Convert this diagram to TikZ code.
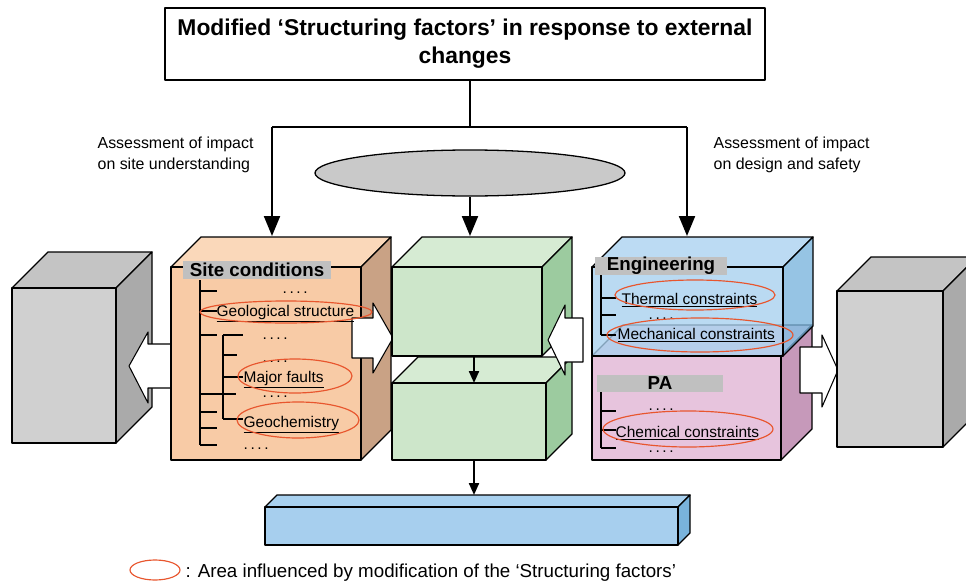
\documentclass[tikz,border=0pt]{standalone}
\usepackage{fontspec}
\setmainfont{Liberation Sans}
\usetikzlibrary{arrows.meta,shapes.geometric}

\definecolor{orangefront}{HTML}{F8CBA6}
\definecolor{orangetop}{HTML}{FAD8BA}
\definecolor{orangeside}{HTML}{C9A285}
\definecolor{gruenfront}{HTML}{CDE6CA}
\definecolor{gruentop}{HTML}{D6EBD3}
\definecolor{gruenside}{HTML}{9CCB9F}
\definecolor{blaufront}{HTML}{A7CFEE}
\definecolor{blautop}{HTML}{A9D1EF}
\definecolor{blauside}{HTML}{79B3DC}
\definecolor{rosafront}{HTML}{E7C4DD}
\definecolor{rosatop}{HTML}{E9CCE0}
\definecolor{rosaside}{HTML}{C699BA}
\definecolor{graufront}{HTML}{D0D0D0}
\definecolor{grautop}{HTML}{C4C4C4}
\definecolor{grauside}{HTML}{AAAAAA}
\definecolor{labelgrau}{HTML}{C0C0C0}
\definecolor{kringelrot}{HTML}{E8562E}

% Quader: [Optionen] x1 y1 (vorne oben links), x2 y2 (vorne unten rechts), Tiefe, Farbe
\newcommand{\quader}[7][]{%
  \filldraw[fill=#7top, #1] (#2,#3) -- ++(#6,-#6) -- ({#4+#6},{#3-#6}) -- (#4,#3) -- cycle;
  \filldraw[fill=#7side, #1] (#4,#3) -- ({#4+#6},{#3-#6}) -- ({#4+#6},{#5-#6}) -- (#4,#5) -- cycle;
  \filldraw[fill=#7front, #1] (#2,#3) rectangle (#4,#5);
}

\begin{document}
\begin{tikzpicture}[x=0.03cm, y=-0.03cm, line width=1.1pt, line join=round,
  pfeil/.style={line width=1.8pt, -{Triangle[length=0.6cm, width=0.48cm]}},
  kpfeil/.style={line width=1.8pt, -{Triangle[length=0.36cm, width=0.3cm]}},
  blockpfeil/.style={draw, fill=white, line width=0.9pt},
  kringel/.style={draw=kringelrot, line width=1pt},
  kopf/.style={fill=labelgrau, inner sep=0pt, font=\bfseries\fontsize{16}{18}\selectfont},
  eintrag/.style={anchor=base west, inner sep=0pt, font=\fontsize{13.2}{15}\selectfont},
  bewertung/.style={anchor=base west, inner sep=0pt, font=\fontsize{13.6}{15}\selectfont},
  baum/.style={line width=0.9pt}]
  \useasboundingbox (0,0) rectangle (966,584);

  % Linker Quader
  \quader{12}{288}{116}{443}{36}{grau}
  \draw[blockpfeil] (175,344) -- (148,344) -- (148,332) -- (129,366) -- (148,403) -- (148,388) -- (175,388) -- cycle;

  % Site conditions
  \quader{171}{267}{361}{460}{30}{orange}
  \draw[blockpfeil] (352,318) -- (373,318) -- (373,303) -- (393,338) -- (373,373) -- (373,358) -- (352,358) -- cycle;

  % Mittlere Quader
  \quader{392}{383}{546}{460}{26}{gruen}
  \quader{392}{267}{542}{356}{30}{gruen}
  \draw[blockpfeil] (583,318) -- (565,318) -- (565,305) -- (548,340) -- (565,375) -- (565,362) -- (583,362) -- cycle;

  % PA und Engineering
  \quader{592}{356}{781}{460}{31}{rosa}
  \quader[fill opacity=0.78]{592}{267}{783}{356}{30}{blau}
  \draw[blockpfeil] (800,347) -- (822,347) -- (822,335) -- (838,370) -- (822,407) -- (822,393) -- (800,393) -- cycle;

  % Rechter Quader
  \quader{837}{291}{943}{447}{34}{grau}

  % Unterer Balken
  \quader{265}{507}{678}{545}{12}{blau}

  % Kopf
  \node[draw, line width=1.1pt, minimum width=18cm, minimum height=2.16cm, align=center,
    font=\bfseries\fontsize{19.5}{24}\selectfont] (titel) at (465,44)
    {Modified ‘Structuring factors’ in response to external\\changes};
  \node[ellipse, draw, fill=labelgrau!85!white, minimum width=9.3cm, minimum height=1.38cm] (mitte) at (470,173) {};
  \coordinate (verteiler) at (470,127);
  \coordinate (links) at (272,127);
  \coordinate (rechts) at (687,127);
  \coordinate (siteoben) at (272,236);
  \coordinate (gruenoben) at (470,236);
  \coordinate (engoben) at (687,236);
  \coordinate (gruenmitte) at (474,356);
  \coordinate (gruenunten) at (474,383);
  \coordinate (gruenboden) at (474,460);
  \coordinate (balken) at (474,495);

  % Pfeile
  \draw (titel.south -| verteiler) -- (verteiler);
  \draw (links) -- (rechts);
  \draw[pfeil] (links) -- (siteoben);
  \draw[pfeil] (rechts) -- (engoben);
  \draw[pfeil] (mitte) -- (gruenoben);
  \draw[kpfeil] (gruenmitte) -- (gruenunten);
  \draw[kpfeil] (gruenboden) -- (balken);

  % Beschriftung
  \node[bewertung] (bewl1) at (97,148) {Assessment of impact};
  \node[bewertung] (bewl2) at (97,169) {on site understanding};
  \node[bewertung] (bewr1) at (713,148) {Assessment of impact};
  \node[bewertung] (bewr2) at (713,169) {on design and safety};

  % Site conditions Baum
  \node[kopf, minimum width=4.44cm, minimum height=0.54cm] (site) at (257,270) {Site conditions};
  \draw[baum] (200,280) -- (200,445);
  \foreach \y in {291,311,335,394,412,428,445}
    \draw[baum] (200,\y) -- (217,\y);
  \draw[baum] (217,394) -- (236,394);
  \draw[baum] (223,335) -- (223,419);
  \foreach \y in {335,377,419}
    \draw[baum] (223,\y) -- (243,\y);
  \draw[baum] (223,355) -- (237,355);
  \node[eintrag] (sp1) at (282,293) {.\,.\,.\,.};
  \node[eintrag] (geo) at (216,316) {\underline{Geological structure}};
  \node[eintrag] (sp2) at (262,339) {.\,.\,.\,.};
  \node[eintrag] (sp3) at (262,362) {.\,.\,.\,.};
  \node[eintrag] (fault) at (243,382) {\underline{Major faults}};
  \node[eintrag] (sp4) at (262,397) {.\,.\,.\,.};
  \node[eintrag] (chem) at (243,427) {\underline{Geochemistry}};
  \node[eintrag] (sp5) at (243,449) {.\,.\,.\,.};

  % Engineering Baum
  \node[kopf, minimum width=3.96cm, minimum height=0.51cm] (eng) at (661,266) {Engineering};
  \draw[baum] (601,275) -- (601,335);
  \foreach \y in {298,315,335}
    \draw[baum] (601,\y) -- (616,\y);
  \node[eintrag] (therm) at (621,304) {\underline{Thermal constraints}};
  \node[eintrag] (sp6) at (648,319) {.\,.\,.\,.};
  \node[eintrag] (mech) at (617,339) {\underline{Mechanical constraints}};

  % PA Baum
  \node[kopf, minimum width=3.78cm, minimum height=0.51cm] (pa) at (660,383) {PA};
  \draw[baum] (601,392) -- (601,448);
  \foreach \y in {411,430,448}
    \draw[baum] (601,\y) -- (616,\y);
  \node[eintrag] (sp7) at (648,410) {.\,.\,.\,.};
  \node[eintrag] (chemc) at (615,437) {\underline{Chemical constraints}};
  \node[eintrag] (sp8) at (648,452) {.\,.\,.\,.};

  % Kringel
  \draw[kringel] (286,312) ellipse [x radius=86, y radius=11];
  \draw[kringel] (295,376) ellipse [x radius=57, y radius=17];
  \draw[kringel] (298,420) ellipse [x radius=61, y radius=18];
  \draw[kringel] (695,295) ellipse [x radius=80, y radius=15];
  \draw[kringel] (700,335) ellipse [x radius=93, y radius=17];
  \draw[kringel] (688,429) ellipse [x radius=85, y radius=18];

  % Legende
  \draw[kringel] (155,570) ellipse [x radius=25, y radius=10];
  \node[eintrag, font=\fontsize{16}{18}\selectfont] (legende) at (185,577)
    {: Area influenced by modification of the ‘Structuring factors’};
\end{tikzpicture}
\end{document}
